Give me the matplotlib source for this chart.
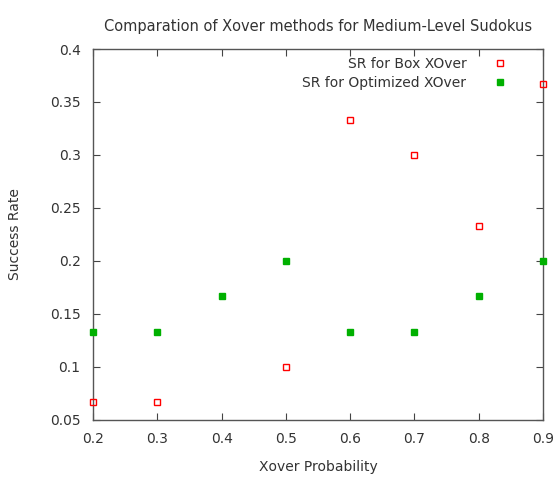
import matplotlib
matplotlib.use("Agg")
import matplotlib.pyplot as plt

# values
prob_box = [0.2, 0.3, 0.5, 0.6, 0.7, 0.8, 0.9]
sr_box = [0.0667, 0.0667, 0.1, 0.3333, 0.3, 0.2333, 0.3667]
prob_opt = [0.2, 0.3, 0.4, 0.5, 0.6, 0.7, 0.8, 0.9]
sr_opt = [0.1333, 0.1333, 0.1667, 0.2, 0.1333, 0.1333, 0.1667, 0.2]

xticks = [0.2, 0.3, 0.4, 0.5, 0.6, 0.7, 0.8, 0.9]
yticks = [0.05, 0.1, 0.15, 0.2, 0.25, 0.3, 0.35, 0.4]

txt = '#333333'
fig = plt.figure(figsize=(5.55, 4.79), dpi=100)
ax = fig.add_axes([0.1676, 0.1232, 0.8108, 0.7745])

ax.plot(prob_box, sr_box, linestyle='none', marker='s', markersize=5,
        markerfacecolor='none', markeredgecolor='#ff0000', markeredgewidth=1,
        label='SR for Box XOver', clip_on=False, zorder=3)
ax.plot(prob_opt, sr_opt, linestyle='none', marker='s', markersize=5,
        color='#00b000', label='SR for Optimized XOver', clip_on=False, zorder=3)

ax.set_xlim(0.2, 0.9)
ax.set_ylim(0.05, 0.4)
ax.set_xticks(xticks)
ax.set_yticks(yticks)
ax.set_xticklabels([f'{v:g}' for v in xticks])
ax.set_yticklabels([f'{v:g}' for v in yticks])
ax.tick_params(direction='in', top=True, right=True, length=5, width=0.8,
               colors='#444444', labelcolor=txt, labelsize=10, pad=9)
for s in ax.spines.values():
    s.set_color('#555555')
    s.set_linewidth(1)

ax.set_xlabel('Xover Probability', color=txt, fontsize=10, labelpad=10)
ax.set_ylabel('Success Rate', color=txt, fontsize=10, labelpad=20)
ax.set_title('Comparation of Xover methods for Medium-Level Sudokus',
             color=txt, fontsize=10.5, pad=13)

ax.legend(loc='upper right', frameon=False, markerfirst=False, fontsize=10,
          handletextpad=1.65, labelspacing=0.38, borderaxespad=0.15,
          handlelength=1.5, labelcolor=txt, bbox_to_anchor=(0.944, 1.0))

fig.savefig('out.png', dpi=100)
